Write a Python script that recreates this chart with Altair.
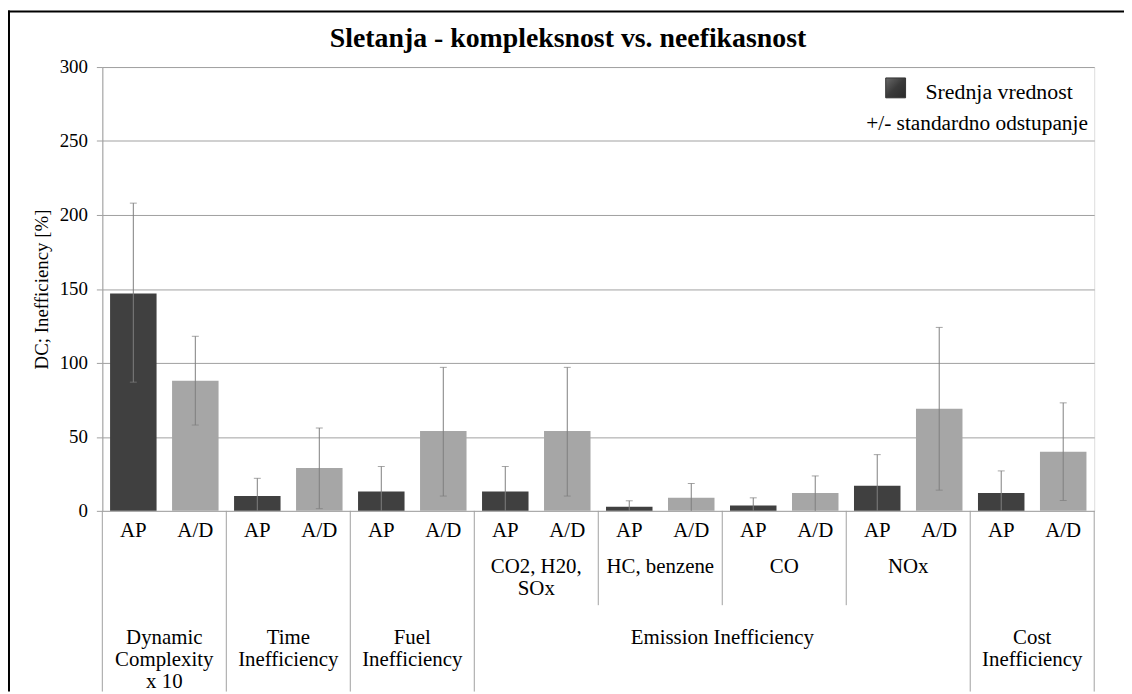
import altair as alt
import pandas as pd

# ---- data ----
group_labels = ["Dynamic\nComplexity\nx 10", "Time\nInefficiency", "Fuel\nInefficiency",
                "Emission Inefficiency", "Cost\nInefficiency"]
subgroup_labels = ["CO2, H20,\nSOx", "HC, benzene", "CO", "NOx"]
series = ["AP", "A/D"]
ap_mean = [147, 10, 13, 13, 2.7, 3.6, 17, 12]
ap_low = [87, 0, 0, 0, 0, 0, 0, 0]
ap_high = [208, 22, 30, 30, 6.8, 8.8, 38, 27]
ad_mean = [88, 29, 54, 54, 8.8, 12, 69, 40]
ad_low = [58, 1.5, 10, 10, 0, 0, 14, 7]
ad_high = [118, 56, 97, 97, 18.5, 23.6, 124, 73]
y_ticks = [0, 50, 100, 150, 200, 250, 300]

W, H = 999, 447
FONT = "Liberation Serif"
GRID = "#a0a0a0"

keys = []
rows = []
for i in range(len(ap_mean)):
    for s, m, lo, hi in ((series[0], ap_mean[i], ap_low[i], ap_high[i]),
                         (series[1], ad_mean[i], ad_low[i], ad_high[i])):
        k = f"{i:02d}-{s}"
        keys.append(k)
        rows.append({"key": k, "series": s, "mean": m, "low": lo, "high": hi})
df = pd.DataFrame(rows)

xscale = alt.Scale(domain=keys, paddingInner=0, paddingOuter=0)


def X(bp=None):
    if bp is None:
        return alt.X("key:N", scale=xscale, axis=None)
    return alt.X("key:N", scale=xscale, axis=None, bandPosition=bp)


yenc = alt.Y("mean:Q", scale=alt.Scale(domain=[0, 300]),
             axis=alt.Axis(values=y_ticks, title="DC; Inefficiency [%]", grid=True,
                           gridColor=GRID, domainColor=GRID, tickColor=GRID,
                           tickSize=6, labelPadding=9, labelFont=FONT, labelFontSize=19,
                           labelColor="black", titleFont=FONT, titleFontSize=19,
                           titleFontWeight="normal", titleColor="black",
                           titleX=-61, titleY=H / 2, titleAngle=270,
                           titleAlign="center", titleBaseline="middle"))

bars = alt.Chart(df).mark_bar(width={"band": 0.75}).encode(
    x=X(), y=yenc,
    color=alt.Color("series:N", scale=alt.Scale(domain=series, range=["#404040", "#a6a6a6"]),
                    legend=None),
)

err = alt.Chart(df).mark_rule(color="#7f7f7f", strokeWidth=1).encode(
    x=X(), y="low:Q", y2="high:Q")
cap_hi = alt.Chart(df).mark_tick(color="#7f7f7f", size=7, thickness=1).encode(
    x=X(), y="high:Q")
cap_lo = alt.Chart(df[df["low"] > 0]).mark_tick(color="#7f7f7f", size=7, thickness=1).encode(
    x=X(), y="low:Q")

# category level 1 labels
lvl1 = alt.Chart(df).mark_text(font=FONT, fontSize=21, color="black", baseline="middle").encode(
    x=X(), y=alt.value(H + 20), text="series:N")

# level 2 (emission subgroups): centred between AP and A/D bands
sub_df = pd.DataFrame({"key": [f"{i:02d}-AP" for i in range(3, 7)], "label": subgroup_labels})
lvl2 = alt.Chart(sub_df).mark_text(font=FONT, fontSize=21, color="black", baseline="top",
                                   lineBreak="\n", lineHeight=22).encode(
    x=X(1), y=alt.value(H + 46), text="label:N")

# level 3 groups, centred at a band edge
grp_df = pd.DataFrame({"key": ["00-AP", "01-AP", "02-AP", "04-A/D", "07-AP"],
                       "label": group_labels})
lvl3 = alt.Chart(grp_df).mark_text(font=FONT, fontSize=21, color="black", baseline="top",
                                   lineBreak="\n", lineHeight=22).encode(
    x=X(1), y=alt.value(H + 117), text="label:N")

# separators
outer_df = pd.DataFrame({"key": ["00-AP", "01-AP", "02-AP", "03-AP", "07-AP"]})
outer = alt.Chart(outer_df).mark_rule(color=GRID, strokeWidth=1).encode(
    x=X(0), y=alt.value(H), y2=alt.value(H + 182))
end_df = pd.DataFrame({"key": ["07-A/D"]})
outer_end = alt.Chart(end_df).mark_rule(color=GRID, strokeWidth=1).encode(
    x=X(1), y=alt.value(H), y2=alt.value(H + 182))
inner_df = pd.DataFrame({"key": ["04-AP", "05-AP", "06-AP"]})
inner = alt.Chart(inner_df).mark_rule(color=GRID, strokeWidth=1).encode(
    x=X(0), y=alt.value(H), y2=alt.value(H + 95))

one = pd.DataFrame({"a": [0]})
title = alt.Chart(one).mark_text(text="Sletanja - kompleksnost vs. neefikasnost", font=FONT,
                                 fontSize=28, fontWeight="bold", color="black",
                                 baseline="middle", align="center").encode(
    x=alt.value(469), y=alt.value(-28))

sym_fill = alt.Gradient(gradient="linear", x1=0, y1=0, x2=1, y2=1,
                        stops=[alt.GradientStop(color="#6a6a6a", offset=0),
                               alt.GradientStop(color="#3a3a3a", offset=0.5),
                               alt.GradientStop(color="#2a2a2a", offset=1)])
leg_sym = alt.Chart(one).mark_square(size=400, fill=sym_fill, stroke="#333333",
                                     strokeWidth=1, opacity=1, fillOpacity=1).encode(
    x=alt.value(799), y=alt.value(21))
leg_t1 = alt.Chart(one).mark_text(text="Srednja vrednost", font=FONT, fontSize=22, color="black",
                                  align="left", baseline="middle").encode(
    x=alt.value(829), y=alt.value(25))
leg_t2 = alt.Chart(one).mark_text(text="+/- standardno odstupanje", font=FONT, fontSize=21.5,
                                  color="black", align="center", baseline="middle").encode(
    x=alt.value(881), y=alt.value(57))

frame_top = alt.Chart(one).mark_rule(color="black", strokeWidth=2).encode(
    x=alt.value(-95), x2=alt.value(1029), y=alt.value(-56))
frame_left = alt.Chart(one).mark_rule(color="black", strokeWidth=2).encode(
    x=alt.value(-94), y=alt.value(-57), y2=alt.value(H + 182))

chart = alt.layer(
    bars, err, cap_hi, cap_lo, lvl1, lvl2, lvl3, outer, outer_end, inner,
    title, leg_sym, leg_t1, leg_t2, frame_top, frame_left
).properties(
    width=W, height=H,
    autosize=alt.AutoSizeParams(type="none"),
    padding={"left": 95, "top": 57, "right": 30, "bottom": 182},
).configure_view(stroke=GRID, strokeWidth=1).configure(background="white")

chart.save("out.html", embed_options={"renderer": "svg", "actions": False})
